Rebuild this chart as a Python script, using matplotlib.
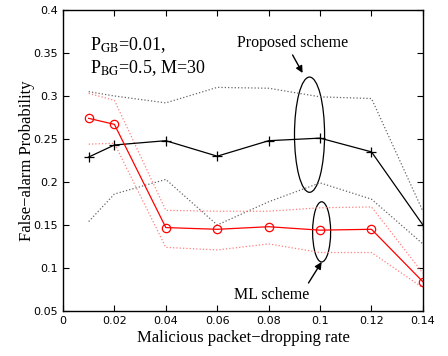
import numpy as np
import matplotlib
matplotlib.use('Agg')
import matplotlib.pyplot as plt
from matplotlib.patches import Ellipse

plt.rcParams['mathtext.fontset'] = 'stix'

# malicious packet-dropping rate
rates = [0.01, 0.02, 0.04, 0.06, 0.08, 0.10, 0.12, 0.14]

# proposed scheme: mean and dotted bounds
prop_mean = [0.229, 0.243, 0.248, 0.230, 0.248, 0.251, 0.235, 0.150]
prop_upper = [0.305, 0.300, 0.292, 0.310, 0.309, 0.299, 0.297, 0.166]
prop_lower = [0.154, 0.186, 0.203, 0.150, 0.177, 0.199, 0.180, 0.128]

# ML scheme: mean and dotted bounds
ml_mean = [0.274, 0.267, 0.147, 0.145, 0.148, 0.144, 0.145, 0.084]
ml_upper = [0.303, 0.295, 0.167, 0.166, 0.166, 0.170, 0.171, 0.094]
ml_lower = [0.244, 0.245, 0.124, 0.121, 0.128, 0.118, 0.118, 0.077]

xticks = [0, 0.02, 0.04, 0.06, 0.08, 0.1, 0.12, 0.14]
xticklabels = ['0', '0.02', '0.04', '0.06', '0.08', '0.1', '0.12', '0.14']
yticks = [0.05, 0.1, 0.15, 0.2, 0.25, 0.3, 0.35, 0.4]
yticklabels = ['0.05', '0.1', '0.15', '0.2', '0.25', '0.3', '0.35', '0.4']

fig = plt.figure(figsize=(4.48, 3.56), dpi=100)
ax = fig.add_axes([0.1406, 0.1264, 0.8034, 0.8456])

ax.plot(rates, prop_upper, ':', color='0.4', lw=0.9)
ax.plot(rates, prop_lower, ':', color='0.4', lw=0.9)
ax.plot(rates, ml_upper, ':', color='#ff8080', lw=0.9)
ax.plot(rates, ml_lower, ':', color='#ff8080', lw=0.9)

ax.plot(rates, prop_mean, '-', color='black', lw=0.9, marker='+', ms=7, mew=0.9)
ax.plot(rates, ml_mean, '-', color='red', lw=0.9, marker='o', ms=6,
        mfc='none', mec='red', mew=0.9)

ax.add_patch(Ellipse((0.0959, 0.255), 0.0117, 0.134, fill=False, ec='black', lw=0.9))
ax.add_patch(Ellipse((0.1006, 0.142), 0.0070, 0.070, fill=False, ec='black', lw=0.9))

serif = 'Liberation Serif'
ax.text(0.0105, 0.353, r'P$_{\rm GB}$=0.01,', fontsize=13, family=serif)
ax.text(0.0105, 0.3265, r'P$_{\rm BG}$=0.5, M=30', fontsize=13, family=serif)

ax.text(0.0893, 0.3616, 'Proposed scheme', fontsize=11.5, family=serif,
        ha='center', va='center')
ax.annotate('', xy=(0.0932, 0.3267), xytext=(0.0893, 0.3477),
            arrowprops=dict(arrowstyle='-|>', color='black', lw=1,
                            shrinkA=0, shrinkB=0, mutation_scale=10))
ax.text(0.0959, 0.0686, 'ML scheme', fontsize=11.5, family=serif,
        ha='right', va='center')
ax.annotate('', xy=(0.1006, 0.107), xytext=(0.0955, 0.0826),
            arrowprops=dict(arrowstyle='-|>', color='black', lw=1,
                            shrinkA=0, shrinkB=0, mutation_scale=10))

ax.set_xlim(0, 0.14)
ax.set_ylim(0.05, 0.4)
ax.set_xticks(xticks)
ax.set_xticklabels(xticklabels)
ax.set_yticks(yticks)
ax.set_yticklabels(yticklabels)
ax.tick_params(direction='in', top=True, right=True, labelsize=8, length=4)
for s in ax.spines.values():
    s.set_linewidth(1.0)

ax.set_xlabel('Malicious packet\u2212dropping rate', fontsize=12, family=serif, labelpad=3)
ax.set_ylabel('False\u2212alarm Probability', fontsize=12, family=serif, labelpad=-1)

fig.savefig('out.png', dpi=100)
